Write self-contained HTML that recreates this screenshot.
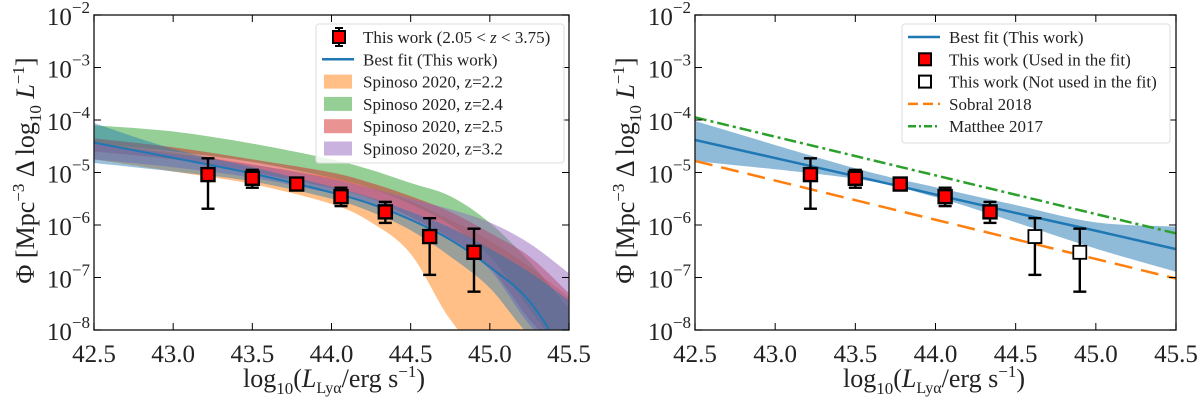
<!DOCTYPE html>
<html><head><meta charset="utf-8"><style>
html,body{margin:0;padding:0;background:#fff;}
svg{display:block;font-family:"Liberation Serif",serif;}
</style></head><body>
<svg id="fig" width="1200" height="403" viewBox="0 0 1200 403" xmlns="http://www.w3.org/2000/svg"></svg>
<script>
// ---- data ----
const pointX = [43.22, 43.5, 43.78, 44.06, 44.34, 44.62, 44.9];
const pointLogY = [-5.04, -5.11, -5.22, -5.46, -5.75, -6.22, -6.52];
const errUpLogY = [-4.73, -4.95, -5.17, -5.29, -5.56, -5.87, -6.07];
const errLoLogY = [-5.69, -5.29, -5.30, -5.64, -5.96, -6.95, -7.27];
const usedInFit = [true, true, true, true, true, false, false];

const curveX = [42.5, 43.0, 43.5, 44.0, 44.25, 44.5, 44.75, 45.0, 45.25, 45.5];
const bestFitLeft = [-4.43, -4.72, -5.02, -5.38, -5.6, -5.9, -6.28, -6.8, -7.45, -8.6];
const thisLo = [-4.82, -4.98, -5.17, -5.5, -5.75, -6.1, -6.6, -7.2, -8.1, -8.6];
const thisHi = [-4.06, -4.55, -4.9, -5.27, -5.48, -5.75, -6.05, -6.45, -6.9, -7.43];
const s22Lo = [-4.75, -4.98, -5.22, -5.6, -5.95, -6.55, -7.8, -8.6, -8.6, -8.6];
const s22Hi = [-4.45, -4.62, -4.85, -5.1, -5.3, -5.55, -5.9, -6.3, -6.8, -7.37];
const s24Lo = [-4.45, -4.6, -4.8, -5.1, -5.3, -5.6, -6.0, -6.6, -7.6, -8.6];
const s24Hi = [-4.1, -4.22, -4.45, -4.75, -4.95, -5.2, -5.45, -5.96, -6.7, -7.6];
const s25Lo = [-4.6, -4.75, -5.0, -5.3, -5.5, -5.85, -6.25, -6.8, -7.8, -8.6];
const s25Hi = [-4.35, -4.52, -4.75, -5.0, -5.2, -5.45, -5.75, -6.15, -6.6, -7.3];
const s32Lo = [-4.75, -4.9, -5.1, -5.4, -5.6, -5.9, -6.3, -6.85, -7.9, -8.6];
const s32Hi = [-4.45, -4.65, -4.85, -5.12, -5.3, -5.5, -5.7, -5.95, -6.35, -6.92];

const lineX = [42.5, 43.5, 44.0, 44.5, 45.0, 45.5];
const bestFitRight = [-4.38, -5.07, -5.42, -5.77, -6.11, -6.46];
const bandRightLo = [-4.78, -5.12, -5.47, -5.95, -6.45, -6.89];
const bandRightHi = [-4.02, -4.92, -5.28, -5.62, -5.95, -6.03];
const sobralX = [42.5, 45.5];
const sobralY = [-4.78, -7.02];
const mattheeX = [42.5, 45.5];
const mattheeY = [-3.95, -6.16];

const xTicks = [42.5, 43.0, 43.5, 44.0, 44.5, 45.0, 45.5];
const yTicks = [-8, -7, -6, -5, -4, -3, -2];

// ---- drawing ----
const NS = "http://www.w3.org/2000/svg";
const svg = document.getElementById("fig");
function mk(tag, attrs, parent) {
  const e = document.createElementNS(NS, tag);
  for (const k in attrs) e.setAttribute(k, attrs[k]);
  (parent || svg).appendChild(e);
  return e;
}
function makePanel(x0, x1, y0, y1, name) {
  const g = mk("g", {});
  
  
  const clipId = name + "-clip";
  const cp = mk("clipPath", {id: clipId}, g);
  mk("rect", {x: x0, y: y0, width: x1 - x0, height: y1 - y0}, cp);
  const plot = mk("g", {"clip-path": "url(#" + clipId + ")"}, g);
  return {g, plot, sx: v => x0 + (v - 42.5) / 3 * (x1 - x0), sy: v => y1 - (v + 8) / 6 * (y1 - y0), x0, x1, y0, y1};
}
// smooth path (Catmull-Rom) through points
function smooth(pts, start) {
  let d = start ? "M" + pts[0][0] + "," + pts[0][1] : "L" + pts[0][0] + "," + pts[0][1];
  for (let i = 0; i < pts.length - 1; i++) {
    const p0 = pts[Math.max(0, i - 1)], p1 = pts[i], p2 = pts[i + 1], p3 = pts[Math.min(pts.length - 1, i + 2)];
    const c1 = [p1[0] + (p2[0] - p0[0]) / 6, p1[1] + (p2[1] - p0[1]) / 6];
    const c2 = [p2[0] - (p3[0] - p1[0]) / 6, p2[1] - (p3[1] - p1[1]) / 6];
    d += "C" + c1[0] + "," + c1[1] + " " + c2[0] + "," + c2[1] + " " + p2[0] + "," + p2[1];
  }
  return d;
}
function band(P, xs, lo, hi, color, op, name) {
  const up = xs.map((x, i) => [P.sx(x), P.sy(hi[i])]);
  const dn = xs.map((x, i) => [P.sx(x), P.sy(lo[i])]).reverse();
  const p = mk("path", {d: smooth(up, true) + smooth(dn, false) + "Z", fill: color, "fill-opacity": op, stroke: "none"}, P.plot);
  
  
}
function line(P, xs, ys, color, w, dash, name) {
  const pts = xs.map((x, i) => [P.sx(x), P.sy(ys[i])]);
  const a = {d: smooth(pts, true), fill: "none", stroke: color, "stroke-width": w};
  if (dash) a["stroke-dasharray"] = dash;
  const p = mk("path", a, P.plot);
  
  
}
function points(P, hollowUnused) {
  pointX.forEach((x, i) => {
    const cx = P.sx(x);
    const g = mk("g", {}, P.g);
    
    
    mk("line", {x1: cx, x2: cx, y1: P.sy(errUpLogY[i]), y2: P.sy(errLoLogY[i]), stroke: "#000", "stroke-width": 2.4}, g);
    [errUpLogY[i], errLoLogY[i]].forEach(v => mk("line", {x1: cx - 6.5, x2: cx + 6.5, y1: P.sy(v), y2: P.sy(v), stroke: "#000", "stroke-width": 2.4}, g));
    const hollow = hollowUnused && !usedInFit[i];
    mk("rect", {x: cx - 6.5, y: P.sy(pointLogY[i]) - 6.5, width: 13, height: 13, fill: hollow ? "#fff" : "#ff0000", stroke: "#000", "stroke-width": hollow ? 1.8 : 2.4}, g);
  });
}
function axes(P, labelX, xlabX) {
  const g = P.g;
  mk("rect", {x: P.x0, y: P.y0, width: P.x1 - P.x0, height: P.y1 - P.y0, fill: "none", stroke: "#222", "stroke-width": 1.4}, g);
  xTicks.forEach(t => {
    const x = P.sx(t);
    mk("line", {x1: x, x2: x, y1: P.y1, y2: P.y1 - 7, stroke: "#000"}, g);
    mk("line", {x1: x, x2: x, y1: P.y0, y2: P.y0 + 7, stroke: "#000"}, g);
    const tx = mk("text", {x: x, y: P.y1 + 32, "font-size": 25, "text-anchor": "middle", fill: "#222"}, g);
    tx.textContent = t.toFixed(1);
    
    
  });
  yTicks.forEach(t => {
    const y = P.sy(t);
    mk("line", {x1: P.x0, x2: P.x0 + 7, y1: y, y2: y, stroke: "#000"}, g);
    mk("line", {x1: P.x1, x2: P.x1 - 7, y1: y, y2: y, stroke: "#000"}, g);
    const tx = mk("text", {x: P.x0 - 4, y: y + 10, "font-size": 25, "text-anchor": "end", fill: "#222"}, g);
    
    
    tx.innerHTML = '10<tspan dy="-12" font-size="17">\u2212' + (-t) + '</tspan>';
  });
  const yl = mk("text", {x: 0, y: 0, "font-size": 26, "text-anchor": "middle", fill: "#222", transform: "translate(" + labelX + "," + ((P.y0 + P.y1) / 2 - 2) + ") rotate(-90)"}, g);
  
  
  yl.innerHTML = 'Φ [Mpc<tspan dy="-10" font-size="17">−3</tspan><tspan dy="10"> Δ log</tspan><tspan dy="7" font-size="17">10</tspan><tspan dy="-7" font-style="italic"> L</tspan><tspan dy="-10" font-size="17">−1</tspan><tspan dy="10">]</tspan>';
  const xl = mk("text", {x: xlabX, y: 387, "font-size": 26, "text-anchor": "middle", fill: "#222"}, g);
  
  
  xl.innerHTML = 'log<tspan dy="7" font-size="17">10</tspan><tspan dy="-7">(</tspan><tspan font-style="italic">L</tspan><tspan dy="6" font-size="16">Lyα</tspan><tspan dy="-6">/erg s</tspan><tspan dy="-10" font-size="17">−1</tspan><tspan dy="10">)</tspan>';
}
function legend(P, x, y, w, h, entries, name) {
  const g = mk("g", {}, P.g);
  
  
  mk("rect", {x, y, width: w, height: h, rx: 3, fill: "#fff", "fill-opacity": 0.85, stroke: "#ddd"}, g);
  entries.forEach((e, i) => {
    const cy = y + 13 + i * 22.3;
    const hx = x + 4;
    if (e.type === "patch") mk("rect", {x: hx + 4, y: cy - 7, width: 28, height: 14, fill: e.color, "fill-opacity": 0.5}, g);
    else if (e.type === "line") mk("line", {x1: hx + 2, x2: hx + 34, y1: cy, y2: cy, stroke: e.color, "stroke-width": 2.5, "stroke-dasharray": e.dash || ""}, g);
    else {
      if (e.err) { mk("line", {x1: hx + 19, x2: hx + 19, y1: cy - 9, y2: cy + 9, stroke: "#000", "stroke-width": 2}, g);
        mk("line", {x1: hx + 15, x2: hx + 23, y1: cy - 9, y2: cy - 9, stroke: "#000", "stroke-width": 2}, g);
        mk("line", {x1: hx + 15, x2: hx + 23, y1: cy + 9, y2: cy + 9, stroke: "#000", "stroke-width": 2}, g); }
      mk("rect", {x: hx + 13, y: cy - 6, width: 12, height: 12, fill: e.color, stroke: "#000", "stroke-width": 2}, g);
    }
    const t = mk("text", {x: x + 47, y: cy + 6, "font-size": 17, fill: "#222"}, g);
    t.innerHTML = e.label;
  });
}

// Left panel
const L = makePanel(94, 569, 15, 330, "left-panel");
band(L, curveX, s22Lo, s22Hi, "#ff7f0e", 0.5, "band-spinoso-z2.2");
band(L, curveX, s24Lo, s24Hi, "#2ca02c", 0.5, "band-spinoso-z2.4");
band(L, curveX, s25Lo, s25Hi, "#d62728", 0.5, "band-spinoso-z2.5");
band(L, curveX, s32Lo, s32Hi, "#9467bd", 0.5, "band-spinoso-z3.2");
band(L, curveX, thisLo, thisHi, "#1f77b4", 0.45, "band-best-fit");
line(L, curveX, bestFitLeft, "#1f77b4", 2, null, "best-fit-line");
points(L, false);
axes(L, 34, 334);
legend(L, 316, 24, 248, 139, [
  {type: "marker", color: "#ff0000", err: true, label: 'This work (2.05 &lt; <tspan font-style="italic">z</tspan> &lt; 3.75)'},
  {type: "line", color: "#1f77b4", label: "Best fit (This work)"},
  {type: "patch", color: "#ff7f0e", label: "Spinoso 2020, z=2.2"},
  {type: "patch", color: "#2ca02c", label: "Spinoso 2020, z=2.4"},
  {type: "patch", color: "#d62728", label: "Spinoso 2020, z=2.5"},
  {type: "patch", color: "#9467bd", label: "Spinoso 2020, z=3.2"}
], "left-legend");

// Right panel
const R = makePanel(695, 1176, 15, 330, "right-panel");
band(R, lineX, bandRightLo, bandRightHi, "#1f77b4", 0.5, "band-best-fit-right");
line(R, lineX, bestFitRight, "#1f77b4", 2.5, null, "best-fit-line-right");
line(R, sobralX, sobralY, "#ff7f0e", 2.5, "18 9", "sobral-2018-line");
line(R, mattheeX, mattheeY, "#2ca02c", 2.5, "12 4 3 4", "matthee-2017-line");
points(R, true);
axes(R, 634, 934);
legend(R, 902, 24, 268, 119, [
  {type: "line", color: "#1f77b4", label: "Best fit (This work)"},
  {type: "marker", color: "#ff0000", label: "This work (Used in the fit)"},
  {type: "marker", color: "#fff", label: "This work (Not used in the fit)"},
  {type: "line", color: "#ff7f0e", dash: "10 5", label: "Sobral 2018"},
  {type: "line", color: "#2ca02c", dash: "8 3 2 3", label: "Matthee 2017"}
], "right-legend");
</script>
</body></html>
